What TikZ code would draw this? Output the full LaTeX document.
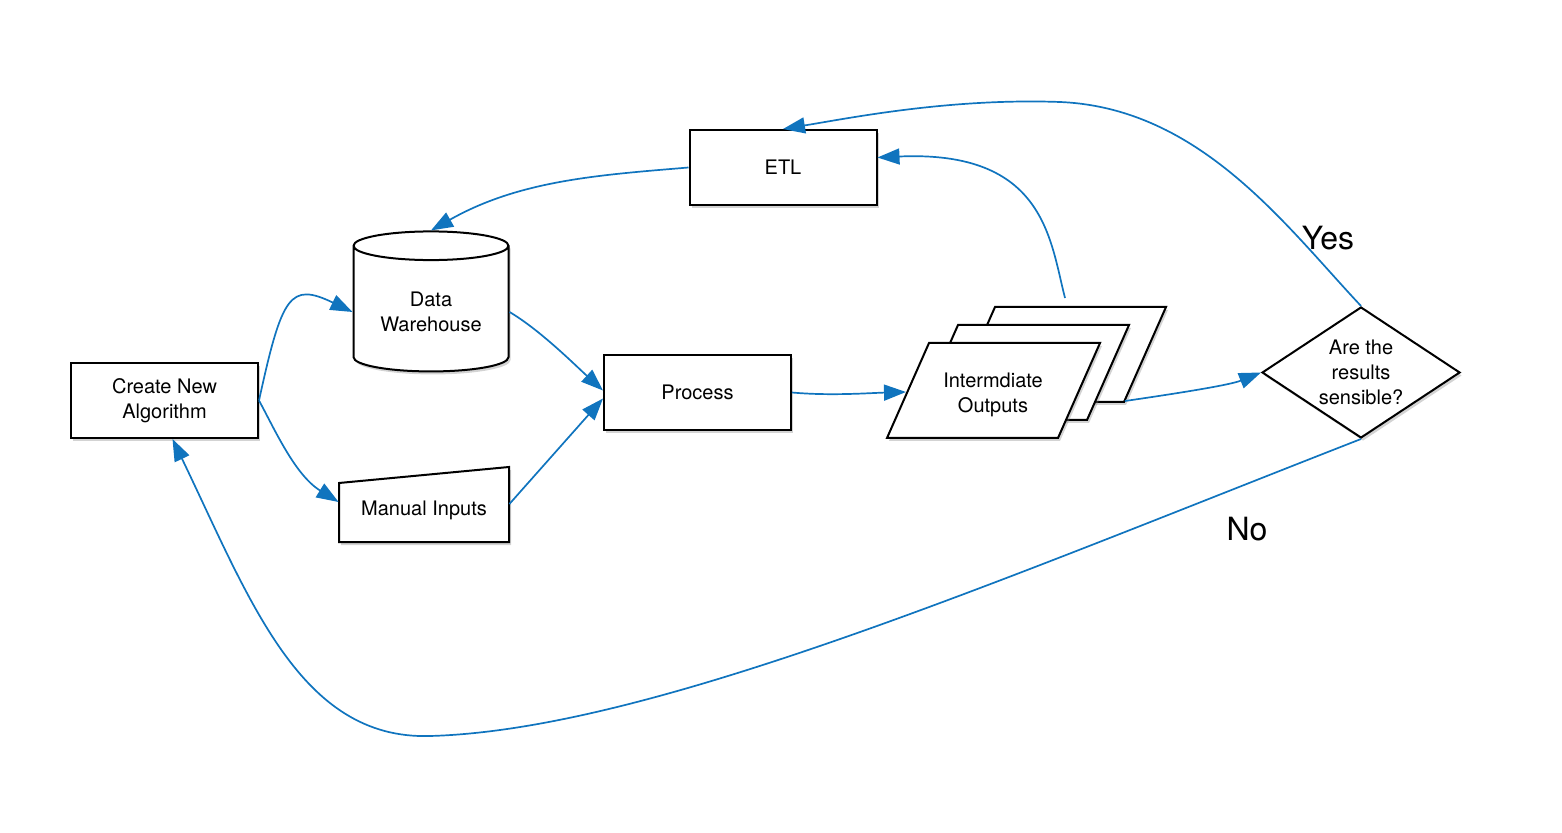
\documentclass[tikz,border=0pt]{standalone}
\usepackage{fontspec}
\setmainfont{TeX Gyre Heros}
\usetikzlibrary{shapes.geometric,arrows.meta,shadows}
\definecolor{flowblue}{RGB}{16,116,190}
\begin{document}
\begin{tikzpicture}[x=0.5pt,y=-0.5pt]
		\tikzset{box/.style = {shape=rectangle, draw, line width=1pt, fill=white, minimum width=93.5pt, minimum height=37.5pt, align=center, font=\fontsize{10}{12.5}\selectfont, drop shadow={shadow xshift=1pt, shadow yshift=-1.5pt, opacity=0.35}}}
		\tikzset{store/.style = {cylinder, shape border rotate=90, aspect=0.25, draw, line width=1pt, fill=white, minimum width=77.5pt, minimum height=70pt, align=center, font=\fontsize{10}{12.5}\selectfont, drop shadow={shadow xshift=1pt, shadow yshift=-1.5pt, opacity=0.35}}}
		\tikzset{sheet/.style = {draw, line width=1pt, line join=miter, fill=white, drop shadow={shadow xshift=1pt, shadow yshift=-1.5pt, opacity=0.35}}}
		\tikzset{decision/.style = {diamond, aspect=1.5, inner sep=0pt, draw, line width=1pt, fill=white, minimum width=99pt, minimum height=65.5pt, align=center, font=\fontsize{10}{12.5}\selectfont, drop shadow={shadow xshift=1pt, shadow yshift=-1.5pt, opacity=0.35}}}
		\tikzset{plain/.style = {align=center, font=\fontsize{10}{12.5}\selectfont}}
		\tikzset{answer/.style = {font=\fontsize{16}{19}\selectfont}}
		\tikzset{flow/.style = {draw=flowblue, line width=0.85pt, -{Triangle[length=11pt,width=8pt]}}}

		\useasboundingbox (0,0) rectangle (1562,833);

		\node[box] (new) at (164.5,400.5) {Create New\\Algorithm};
		\node[store] (dw) at (431,312) {Data\\Warehouse};
		\draw[sheet] (339,542) -- (339,483) -- (509,467) -- (509,542) -- cycle;
		\node[plain, minimum width=85pt, minimum height=37.5pt] (manual) at (424,510) {Manual Inputs};
		\node[box] (process) at (697.5,392.5) {Process};
		\node[box] (etl) at (783,167.5) {ETL};

		\foreach \dx/\dy in {66/-36, 29/-18, 0/0}
			\draw[sheet] ({887+\dx},{438+\dy}) -- ({929+\dx},{343+\dy}) -- ({1100+\dx},{343+\dy}) -- ({1058+\dx},{438+\dy}) -- cycle;
		\node[plain] (outputs) at (993,395) {Intermdiate\\Outputs};
		\coordinate (outs-l) at (906,392);
		\coordinate (outs-r) at (1125,401);
		\coordinate (outs-t) at (1065,298);

		\node[decision] (test) at (1361,372.5) {Are the\\results\\sensible?};

		\node[answer] (yes) at (1328,238) {Yes};
		\node[answer] (no) at (1247,529) {No};


		\draw[flow] (new.east) .. controls (282,295) and (290,282) .. (dw.west);
		\draw[flow] (new.east) .. controls (275,430) and (295,475) .. ([yshift=4pt]manual.west);
		\draw[flow] (dw.east) .. controls (540,330) and (575,365) .. ([yshift=1pt]process.west);
		\draw[flow] ([yshift=3pt]manual.east) -- ([yshift=-3pt]process.west);
		\draw[flow] (process.east) .. controls (830,396) and (870,393) .. (outs-l);
		\draw[flow] (outs-r) .. controls (1180,393) and (1230,385) .. (test.west);


		\draw[flow] (outs-t) .. controls (1050,240) and (1045,150) .. ([yshift=5pt]etl.east);
		\draw[flow] (etl.west) .. controls (600,175) and (520,180) .. (dw.north);
		\draw[flow] (test.north) .. controls (1285,225) and (1200,108) .. (1060,102) .. controls (950,98) and (850,118) .. (etl.north);
		\draw[flow] (test.south) .. controls (1000,580) and (650,730) .. (430,736) .. controls (300,740) and (250,600) .. ([xshift=4pt]new.south);


	\end{tikzpicture}
\end{document}
